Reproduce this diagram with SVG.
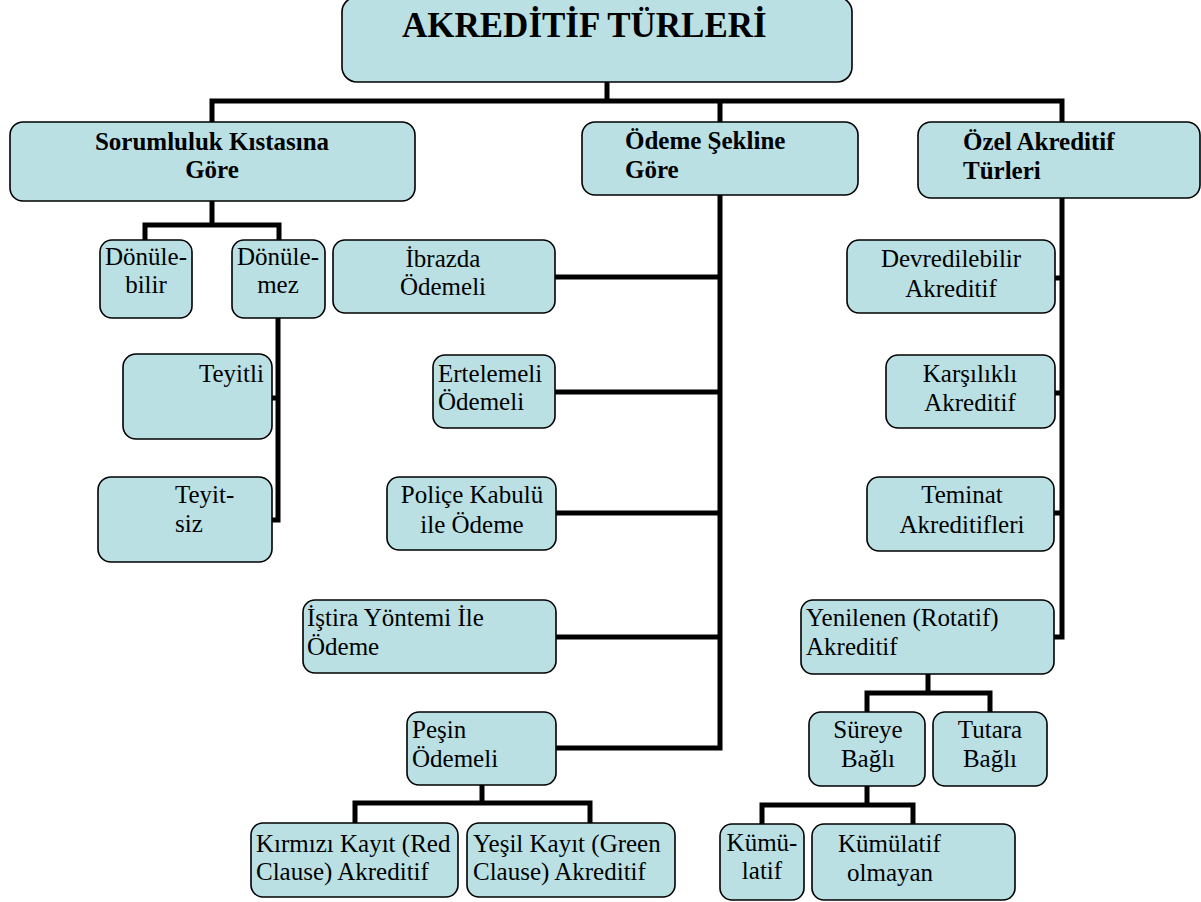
<svg xmlns="http://www.w3.org/2000/svg" width="1201" height="902" viewBox="0 0 1201 902">
<style>
.box{fill:#BAE0E3;stroke:#000;stroke-width:1.6}
.t{font-family:"Liberation Serif","Times New Roman",serif;font-size:25px;fill:#000}
.b{font-weight:bold}
.m{text-anchor:middle}
.c{fill:none;stroke:#000;stroke-width:5;stroke-linejoin:miter;stroke-linecap:butt}
</style>
<rect width="1201" height="902" fill="#fff"/>
<g id="connectors">
<path class="c" d="M607 82V101M212 122V101H1062V122M720 101V122"/>
<path class="c" d="M720 195V748H556M555 277H720M555 392H720M556 513H720M556 637H720"/>
<path class="c" d="M212 201V225M145 240V225H279V240"/>
<path class="c" d="M278 318V520H272M272 398H278"/>
<path class="c" d="M1062 198V637H1054M1055 278H1062M1055 393H1062M1054 513H1062"/>
<path class="c" d="M928 674V693M867 712V693H990V712"/>
<path class="c" d="M867 786V805M762 824V805H913V824"/>
<path class="c" d="M482 785V803M355 823V803H590V823"/>
</g>
<g id="root"><rect class="box" x="342" y="-3" width="510" height="85" rx="15"/><text class="t b" x="402" y="37" style="font-size:35px">AKREDİTİF TÜRLERİ</text></g>
<g id="sorumluluk"><rect class="box" x="10" y="122" width="405" height="79" rx="13"/><text class="t b m" x="212" y="150">Sorumluluk Kıstasına</text><text class="t b m" x="212" y="178">Göre</text></g>
<g id="odeme"><rect class="box" x="582" y="122" width="276" height="73" rx="13"/><text class="t b" x="625" y="149">Ödeme Şekline</text><text class="t b" x="625" y="178">Göre</text></g>
<g id="ozel"><rect class="box" x="918" y="122" width="282" height="76" rx="13"/><text class="t b" x="963" y="150">Özel Akreditif</text><text class="t b" x="963" y="179">Türleri</text></g>
<g id="donulebilir"><rect class="box" x="100" y="240" width="92" height="78" rx="12"/><text class="t m" x="146" y="265">Dönüle-</text><text class="t m" x="146" y="293">bilir</text></g>
<g id="donulemez"><rect class="box" x="232" y="240" width="93" height="78" rx="12"/><text class="t m" x="278" y="265">Dönüle-</text><text class="t m" x="278" y="293">mez</text></g>
<g id="teyitli"><rect class="box" x="123" y="354" width="149" height="85" rx="13"/><text class="t" x="199" y="382">Teyitli</text></g>
<g id="teyitsiz"><rect class="box" x="98" y="477" width="174" height="85" rx="13"/><text class="t" x="175" y="503">Teyit-</text><text class="t" x="175" y="532">siz</text></g>
<g id="ibrazda"><rect class="box" x="333" y="240" width="222" height="73" rx="12"/><text class="t m" x="443" y="267">İbrazda</text><text class="t m" x="443" y="295">Ödemeli</text></g>
<g id="ertelemeli"><rect class="box" x="433" y="355" width="122" height="73" rx="12"/><text class="t" x="438" y="382">Ertelemeli</text><text class="t" x="438" y="410">Ödemeli</text></g>
<g id="police"><rect class="box" x="387" y="477" width="169" height="73" rx="12"/><text class="t m" x="472" y="503">Poliçe Kabulü</text><text class="t m" x="472" y="533">ile Ödeme</text></g>
<g id="istira"><rect class="box" x="303" y="600" width="253" height="73" rx="12"/><text class="t" x="307" y="626">İştira Yöntemi İle</text><text class="t" x="307" y="655">Ödeme</text></g>
<g id="pesin"><rect class="box" x="407" y="712" width="149" height="73" rx="12"/><text class="t" x="412" y="738">Peşin</text><text class="t" x="412" y="767">Ödemeli</text></g>
<g id="kirmizi"><rect class="box" x="251" y="823" width="207" height="74" rx="12"/><text class="t" x="256" y="852">Kırmızı Kayıt (Red</text><text class="t" x="256" y="880">Clause) Akreditif</text></g>
<g id="yesil"><rect class="box" x="467" y="823" width="208" height="74" rx="12"/><text class="t" x="473" y="852">Yeşil Kayıt (Green</text><text class="t" x="473" y="880">Clause) Akreditif</text></g>
<g id="devredilebilir"><rect class="box" x="847" y="240" width="208" height="73" rx="12"/><text class="t m" x="951" y="267">Devredilebilir</text><text class="t m" x="951" y="297">Akreditif</text></g>
<g id="karsilikli"><rect class="box" x="886" y="355" width="169" height="73" rx="12"/><text class="t m" x="970" y="382">Karşılıklı</text><text class="t m" x="970" y="411">Akreditif</text></g>
<g id="teminat"><rect class="box" x="867" y="477" width="187" height="74" rx="12"/><text class="t m" x="962" y="503">Teminat</text><text class="t m" x="962" y="533">Akreditifleri</text></g>
<g id="yenilenen"><rect class="box" x="801" y="600" width="253" height="74" rx="12"/><text class="t" x="806" y="626">Yenilenen (Rotatif)</text><text class="t" x="806" y="655">Akreditif</text></g>
<g id="sureye"><rect class="box" x="809" y="712" width="116" height="74" rx="12"/><text class="t m" x="868" y="738">Süreye</text><text class="t m" x="868" y="767">Bağlı</text></g>
<g id="tutara"><rect class="box" x="933" y="712" width="114" height="74" rx="12"/><text class="t m" x="990" y="738">Tutara</text><text class="t m" x="990" y="767">Bağlı</text></g>
<g id="kumulatif"><rect class="box" x="720" y="824" width="84" height="76" rx="12"/><text class="t m" x="762" y="851">Kümü-</text><text class="t m" x="762" y="879">latif</text></g>
<g id="kumulatif-olmayan"><rect class="box" x="812" y="824" width="203" height="76" rx="12"/><text class="t" x="838" y="852">Kümülatif</text><text class="t" x="847" y="881">olmayan</text></g>
</svg>
